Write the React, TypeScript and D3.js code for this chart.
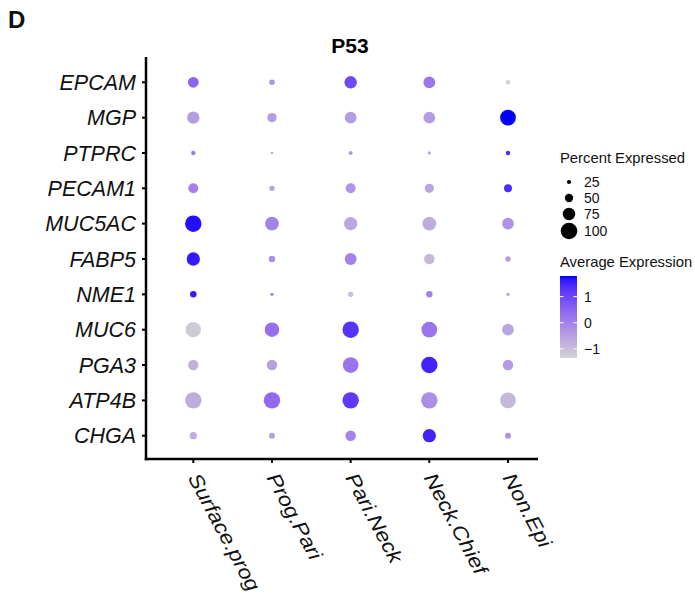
import React from "react";
import * as d3 from "d3";

const genes = ["EPCAM","MGP","PTPRC","PECAM1","MUC5AC","FABP5","NME1","MUC6","PGA3","ATP4B","CHGA"];
const groups = ["Surface.prog","Prog.Pari","Pari.Neck","Neck.Chief","Non.Epi"];

// percent expressed per gene (rows) x group (cols)
const pctExp = [
  [65, 33, 75, 71, 27],
  [75, 56, 71, 71, 95],
  [27, 14, 24, 20, 27],
  [60, 32, 60, 56, 48],
  [99, 83, 80, 83, 71],
  [80, 39, 71, 63, 32],
  [39, 20, 32, 39, 20],
  [92, 87, 99, 95, 71],
  [63, 63, 95, 99, 63],
  [99, 99, 99, 99, 95],
  [44, 36, 63, 80, 36],
];
// scaled average expression
const avgExp = [
  [0.5, -0.3, 0.95, 0.2, -1.35],
  [-0.45, -0.45, -0.45, -0.45, 1.79],
  [0.1, -0.5, -0.3, -0.7, 1.4],
  [0.0, -0.5, -0.3, -0.6, 1.4],
  [1.7, 0.0, -0.6, -0.7, -0.3],
  [1.6, -0.2, 0.0, -0.9, -0.4],
  [1.6, 0.0, -1.0, 0.0, -0.5],
  [-1.2, 0.3, 1.3, 0.2, -0.6],
  [-0.8, -0.5, 0.2, 1.5, -0.4],
  [-0.7, 0.4, 1.2, -0.2, -0.9],
  [-0.7, -0.5, 0.0, 1.5, -0.3],
];
const sizeBreaks = [25, 50, 75, 100];
const colorBreaks = [-1, 0, 1];

const W = 695, H = 599;
const panel = { left: 146, top: 57, right: 538, bottom: 459 };

export default function App() {
  const x = d3.scalePoint<string>().domain(groups).range([193.3, 508]);
  const y = d3.scalePoint<string>().domain(genes).range([82.3, 435.7]);
  const all = avgExp.flat();
  const vmin = d3.min(all)!;
  const vmax = d3.max(all)!;
  const interp = d3.interpolateLab("lightgrey", "blue");
  const color = d3.scaleLinear<number>().domain([vmin, vmax]).range([0, 1]).clamp(true);
  const r = d3.scaleLinear().domain([0, 100]).range([0, 8.3]);

  const cb = { x: 560, w: 17, top: 276, bottom: 358 };
  const cy = d3.scaleLinear().domain([vmin, vmax]).range([cb.bottom, cb.top]);
  const stops = d3.range(0, 1.0001, 0.05);

  const font = "Liberation Sans, Arial, sans-serif";

  return (
    <svg width={W} height={H} style={{ position: "absolute", left: 0, top: 0, background: "#fff" }} fontFamily={font}>
      <defs>
        <linearGradient id="cbar" x1="0" y1="1" x2="0" y2="0">
          {stops.map((t, i) => (
            <stop key={i} offset={t} stopColor={interp(t)} />
          ))}
        </linearGradient>
      </defs>
      <rect width={W} height={H} fill="#fff" />
      <text x={8} y={28} fontSize={24} fontWeight="bold" fill="#111">D</text>
      <text x={350} y={53} fontSize={21} fontWeight="bold" textAnchor="middle" fill="#000">P53</text>

      {/* dots */}
      {genes.map((g, i) =>
        groups.map((grp, j) => (
          <circle key={g + grp} cx={x(grp)} cy={y(g)} r={r(pctExp[i][j])} fill={interp(color(avgExp[i][j]))} />
        ))
      )}

      {/* axes */}
      <line x1={panel.left} x2={panel.left} y1={panel.top} y2={panel.bottom + 1.25} stroke="#000" strokeWidth={2.5} />
      <line x1={panel.left - 1.25} x2={panel.right} y1={panel.bottom} y2={panel.bottom} stroke="#000" strokeWidth={2.5} />
      {genes.map((g) => (
        <g key={g}>
          <line x1={panel.left - 4} x2={panel.left} y1={y(g)} y2={y(g)} stroke="#000" strokeWidth={2} />
          <text x={136} y={y(g)} dy="0.36em" fontSize={21.5} fontStyle="italic" textAnchor="end" fill="#111">{g}</text>
        </g>
      ))}
      {groups.map((grp) => (
        <g key={grp}>
          <line x1={x(grp)} x2={x(grp)} y1={panel.bottom} y2={panel.bottom + 4} stroke="#000" strokeWidth={2} />
          <text transform={`translate(${x(grp)! + 7},${panel.bottom + 12}) rotate(62) scale(1.02,0.9)`} fontSize={22.3} fontStyle="italic" dy="0.72em" textAnchor="start" fill="#111">{grp}</text>
        </g>
      ))}

      {/* size legend */}
      <text x={560} y={163} fontSize={14.8} fill="#111">Percent Expressed</text>
      {sizeBreaks.map((b, i) => {
        const yy = [182, 198, 214, 231][i];
        return (
          <g key={b}>
            <circle cx={569} cy={yy} r={r(b)} fill="#000" />
            <text x={584} y={yy} dy="0.36em" fontSize={14} fill="#111">{b}</text>
          </g>
        );
      })}

      {/* color legend */}
      <text x={560} y={267} fontSize={14.8} fill="#111">Average Expression</text>
      <rect x={cb.x} y={cb.top} width={cb.w} height={cb.bottom - cb.top} fill="url(#cbar)" />
      {colorBreaks.map((b) => (
        <g key={b}>
          <line x1={cb.x} x2={cb.x + 3.5} y1={cy(b)} y2={cy(b)} stroke="#fff" strokeWidth={1} />
          <line x1={cb.x + cb.w - 3.5} x2={cb.x + cb.w} y1={cy(b)} y2={cy(b)} stroke="#fff" strokeWidth={1} />
          <text x={584} y={cy(b)} dy="0.36em" fontSize={14} fill="#111">{b < 0 ? "\u2212" + Math.abs(b) : b}</text>
        </g>
      ))}
    </svg>
  );
}
